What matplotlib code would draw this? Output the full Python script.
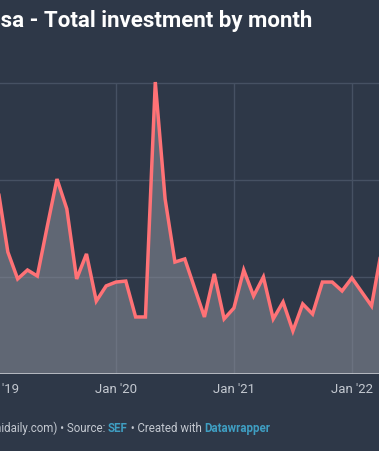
import matplotlib
matplotlib.use("Agg")
import matplotlib.pyplot as plt
import numpy as np

# monthly values, Jan 2019 .. Apr 2022 (units ~ million EUR)
months = ["2019-01", "2019-02", "2019-03", "2019-04", "2019-05", "2019-06",
          "2019-07", "2019-08", "2019-09", "2019-10", "2019-11", "2019-12",
          "2020-01", "2020-02", "2020-03", "2020-04", "2020-05", "2020-06",
          "2020-07", "2020-08", "2020-09", "2020-10", "2020-11", "2020-12",
          "2021-01", "2021-02", "2021-03", "2021-04", "2021-05", "2021-06",
          "2021-07", "2021-08", "2021-09", "2021-10", "2021-11", "2021-12",
          "2022-01", "2022-02", "2022-03", "2022-04"]
investment = [95.4, 62.9, 49.0, 53.6, 50.5, 75.8, 100.5, 85.1, 49.0, 61.9, 37.6, 45.4,
              47.4, 47.9, 29.4, 29.4, 150.5, 90.2, 57.7, 59.3, 44.3, 29.4, 51.6, 28.4,
              34.0, 53.6, 40.2, 50.0, 28.4, 37.1, 22.2, 36.1, 30.9, 47.4, 47.4, 42.8,
              49.5, 42.3, 35.1, 63.4]
tick_pos = [0, 12, 24, 36]
tick_labels = ["Jan '19", "Jan '20", "Jan '21", "Jan '22"]
grid_values = [50, 100, 150]

BG = "#2e3848"
LINE = "#ff7276"
GRID = "#465163"
TXT = "#c3c8d0"
LINK = "#3f9ec2"

W, H = 379, 452
plt.rcParams['font.family'] = ['Roboto', 'DejaVu Sans']

fig = plt.figure(figsize=(W / 100, H / 100), dpi=100, facecolor=BG)

# axes placed in pixel terms; left part runs off the canvas like the cropped original
px_left, px_right, px_top, px_bottom = -30, 379, 70, 375
ax = fig.add_axes([px_left / W, 1 - px_bottom / H,
                   (px_right - px_left) / W, (px_bottom - px_top) / H])
ax.set_facecolor(BG)

x = np.arange(len(investment))
ppm = 9.83  # pixels per month
x0 = -2     # pixel of Jan '19
ax.set_xlim((px_left - x0) / ppm, (px_right - x0) / ppm)
ax.set_ylim(0, 150 * (px_bottom - px_top) / (px_bottom - 84))

for g in grid_values:
    ax.axhline(g, color=GRID, lw=1, zorder=1)
ax.vlines(tick_pos, 0, max(grid_values), color=GRID, lw=1, zorder=1)

ax.fill_between(x, investment, 0, color="#8a8f99", alpha=0.55, lw=0, zorder=2)
ax.plot(x, investment, color=LINE, lw=2.5, solid_joinstyle='miter', zorder=3, clip_on=False)
ax.axhline(0, color="#c3c7ce", lw=1.2, zorder=4)

for s in ax.spines.values():
    s.set_visible(False)
ax.set_yticks([])
ax.set_xticks(tick_pos)
ax.set_xticklabels(tick_labels, color=TXT, fontsize=9.5)
ax.tick_params(axis='x', length=0, pad=6)

# title (left part cut off as in the reference)
fig.text(312 / W, 1 - 27 / H, "Golden Visa - Total investment by month",
         ha='right', va='baseline', color='white', fontsize=16, fontweight='bold')

# footer with coloured links
renderer = fig.canvas.get_renderer()
fy = 1 - 432 / H
pieces = [("Chart: (www.portugalnidaily.com) \u2022 Source: ", TXT),
          ("SEF", LINK),
          (" \u2022 Created with ", TXT),
          ("Datawrapper", LINK)]
t = fig.text(108 / W, fy, pieces[0][0], ha='right', va='baseline', color=pieces[0][1], fontsize=8.3)
xpos = 108 / W
for txt, col in pieces[1:]:
    t = fig.text(xpos, fy, txt, ha='left', va='baseline', color=col, fontsize=8.3,
                 fontweight='bold' if col == LINK else 'normal')
    bb = t.get_window_extent(renderer)
    xpos = bb.x1 / W

fig.savefig("out.png", dpi=100, facecolor=BG)
